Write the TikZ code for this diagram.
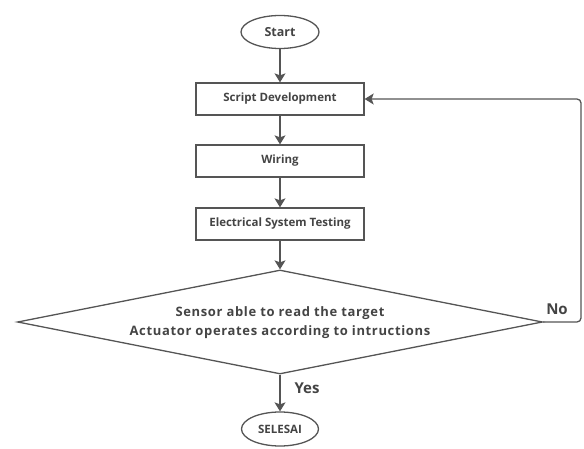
\documentclass[tikz,border=0pt]{standalone}
\usepackage{fontspec}
\setmainfont{Open Sans}
\usetikzlibrary{shapes.geometric,arrows.meta}
\definecolor{linec}{HTML}{555555}
\definecolor{textc}{HTML}{444444}
\tikzset{
  base/.style={draw=linec, line width=1.3pt, text=textc, font=\fontsize{11.5}{13}\selectfont\bfseries, inner sep=0pt},
  term/.style={base, ellipse, minimum width=78pt, minimum height=33pt},
  proc/.style={base, rectangle, minimum width=168pt, minimum height=32pt},
  decis/.style={base, diamond, shape aspect=5, minimum width=525pt, minimum height=104pt, align=center},
  conn/.style={draw=linec, line width=1.3pt, -{Stealth[length=9pt,width=11pt,inset=2pt]}},
  lbl/.style={text=textc, font=\fontsize{15}{17}\selectfont\bfseries}
}
\begin{document}
\begin{tikzpicture}[x=1pt,y=1pt]
\useasboundingbox (0,0) rectangle (584,448);
\node[term, font=\fontsize{12.5}{14}\selectfont\bfseries] (start) at (280,416) {Start};
\node[proc] (script) at (280,349) {Script Development};
\node[proc] (wiring) at (280,287) {Wiring};
\node[proc] (elec) at (280,224) {Electrical System Testing};
\node[decis] (dec) at (280,126) {};
\node[text=textc, font=\fontsize{13}{19}\selectfont\bfseries\addfontfeature{LetterSpace=5}, align=center] (dtext) at (280,125) {Sensor able to read the target\\Actuator operates according to intructions};
\node[term, minimum width=77pt, minimum height=34pt, font=\fontsize{11.5}{13}\selectfont\bfseries] (end) at (280,19) {SELESAI};
\coordinate (c1) at (581,126);
\coordinate (c2) at (581,349);
\draw[conn] (start) -- (script);
\draw[conn] (script) -- (wiring);
\draw[conn] (wiring) -- (elec);
\draw[conn] (elec) -- (dec.north);
\draw[conn] (dec.south) -- (end);
\draw[conn, rounded corners=4pt] (dec.east) -- (c1) -- (c2) -- (script.east);
\node[lbl] (no) at (557,139) {No};
\node[lbl] (yes) at (307,60) {Yes};
\end{tikzpicture}
\end{document}
